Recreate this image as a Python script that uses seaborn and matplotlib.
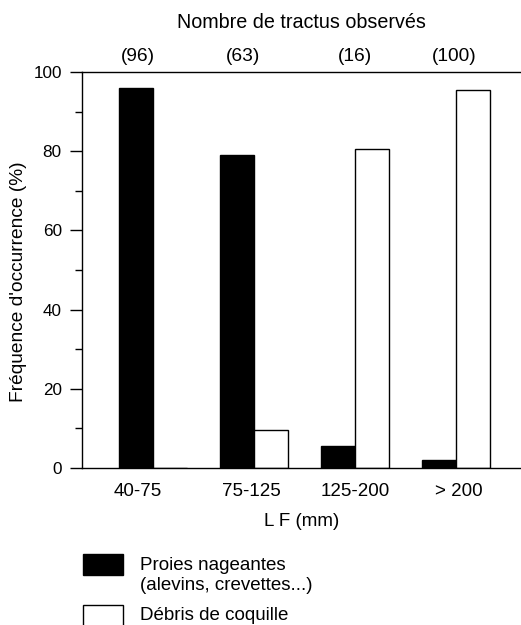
import matplotlib
matplotlib.use("Agg")
import matplotlib.pyplot as plt
from matplotlib.patches import Rectangle
from matplotlib.ticker import MultipleLocator
from matplotlib.transforms import blended_transform_factory
import seaborn as sns
import pandas as pd

# Size classes (fork length) and occurrence frequencies
classes = ["40-75", "75-125", "125-200", "> 200"]
n_tracts = ["(96)", "(63)", "(16)", "(100)"]
proies_nageantes = [96, 79, 5.5, 2]
debris_coquille = [0, 9.5, 80.5, 95.5]
series = ["Proies nageantes", "Débris de coquille"]

df = pd.DataFrame({
    "classe": classes * 2,
    "freq": proies_nageantes + debris_coquille,
    "type": [series[0]] * len(classes) + [series[1]] * len(classes),
})

FS = 13.5
sns.set_style("ticks")
plt.rcParams["font.family"] = ["Liberation Sans", "DejaVu Sans"]
plt.rcParams["font.size"] = FS
for key in ["text.color", "axes.labelcolor", "xtick.color", "ytick.color",
            "axes.edgecolor"]:
    plt.rcParams[key] = "black"

W, H = 521, 625
fig = plt.figure(figsize=(W / 100, H / 100), dpi=100)
ax = fig.add_axes([82 / W, 1 - 468 / H, 1 - 82 / W, (468 - 72) / H])

sns.barplot(data=df, x="classe", y="freq", hue="type", order=classes,
            hue_order=series, palette=["black", "white"], width=0.67,
            edgecolor="black", linewidth=1.0, legend=False, ax=ax)

ax.set_xlim(-0.70, 3.64)
ax.set_ylim(0, 100)
ax.yaxis.set_major_locator(MultipleLocator(20))
ax.yaxis.set_minor_locator(MultipleLocator(10))
ax.tick_params(axis="y", which="major", direction="out", length=9, width=1.0,
               labelsize=12.3, colors="black", pad=5.5)
ax.tick_params(axis="y", which="minor", direction="out", length=5, width=1.0,
               colors="black")
ax.tick_params(axis="x", length=0, labelsize=FS, pad=11, colors="black")
# the first class label sits under its single visible bar
label_pos = [-0.15, 0.97, 2.0, 3.03]
ax.set_xticks(label_pos)
ax.set_xticklabels(classes)

for side in ["left", "bottom", "top"]:
    ax.spines[side].set_linewidth(1.0)
    ax.spines[side].set_color("black")
ax.spines["right"].set_visible(False)

ax.set_xlabel("L F (mm)", fontsize=FS, labelpad=9, color="black")
ax.set_ylabel("Fréquence d'occurrence (%)", fontsize=13.8, color="black")
ax.yaxis.set_label_coords((19 - 82) / (W - 82), (468 - 282) / (468 - 72))
ax.yaxis.label.set_va("center")

# Number of digestive tracts examined per size class, above the frame
top_tr = blended_transform_factory(ax.transData, fig.transFigure)
top_pos = [-0.15, 0.89, 2.0, 2.98]
for x, lab in zip(top_pos, n_tracts):
    ax.text(x, 1 - 61 / H, lab, ha="center", va="baseline", fontsize=13.8,
            color="black", transform=top_tr)
fig.text(301 / W, 1 - 28 / H, "Nombre de tractus observés", ha="center",
         va="baseline", fontsize=14.2, color="black")

# Legend drawn in figure pixels
def fig_rect(x0, y0, x1, y1, color):
    fig.patches.append(Rectangle((x0 / W, 1 - y1 / H), (x1 - x0) / W,
                                 (y1 - y0) / H, transform=fig.transFigure,
                                 facecolor=color, edgecolor="black",
                                 linewidth=1.0))

fig_rect(83, 554, 123, 575, "black")
fig_rect(83, 605, 123, 626, "white")
fig.text(140 / W, 1 - 565 / H, "Proies nageantes", va="center", fontsize=FS,
         color="black")
fig.text(140 / W, 1 - 586 / H, "(alevins, crevettes...)", va="center",
         fontsize=FS, color="black")
fig.text(140 / W, 1 - 615 / H, "Débris de coquille", va="center", fontsize=FS,
         color="black")

fig.savefig("out.png", dpi=100, facecolor="white")
